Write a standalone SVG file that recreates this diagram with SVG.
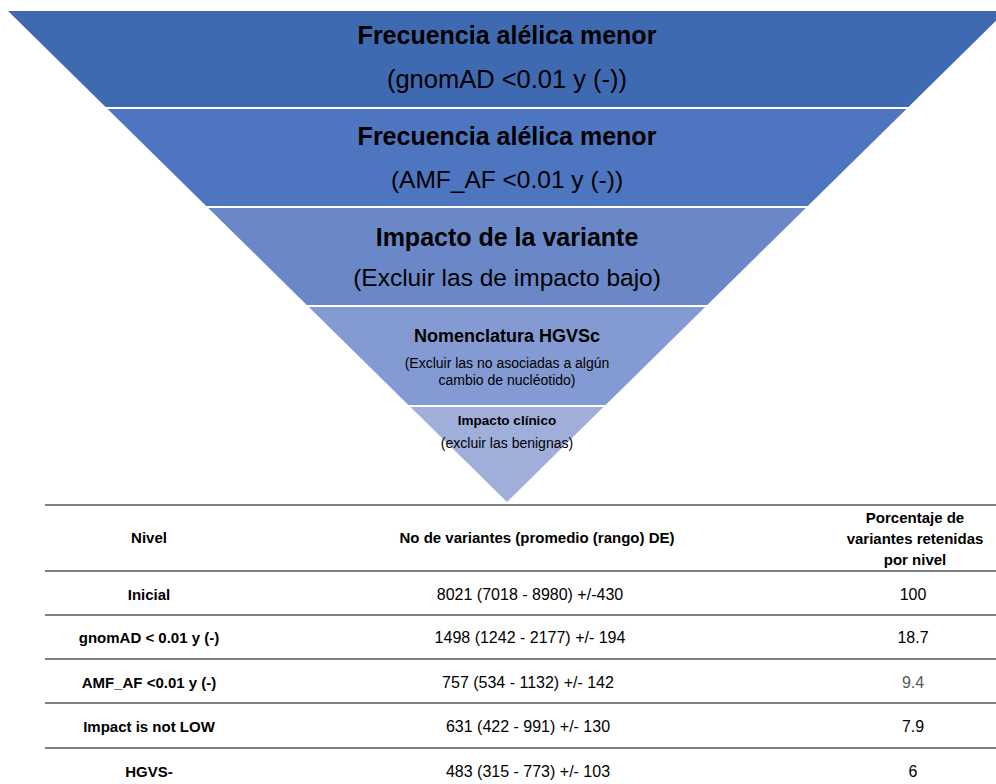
<svg xmlns="http://www.w3.org/2000/svg" width="996" height="784" viewBox="0 0 996 784">
<style>
text { font-family: "Liberation Sans", Arial, sans-serif; fill: #000; text-anchor: middle; }
.b { font-weight: bold; }
.big { font-size: 25px; }
.mid { font-size: 24.5px; }
.g1 { font-size: 25.5px; }
.t4 { font-size: 18px; }
.s14 { font-size: 14px; }
.t5 { font-size: 13.5px; }
.th { font-size: 15px; font-weight: bold; }
.td { font-size: 16px; }
.rule { stroke: #7f7f7f; stroke-width: 2.2; fill: none; }
</style>
<rect width="996" height="784" fill="#fff"/>
<g id="level1">
<polygon points="8,11 1006,11 908.4,107 105.6,107" fill="#3F69B1"/>
<text class="b big" x="507" y="44">Frecuencia alélica menor</text>
<text class="g1" x="507" y="88">(gnomAD &lt;0.01 y (-))</text>
</g>
<g id="level2">
<polygon points="107.6,109 906.4,109 807.8,206 206.2,206" fill="#4E75BF"/>
<text class="b big" x="507" y="145">Frecuencia alélica menor</text>
<text class="mid" x="507" y="188">(AMF_AF &lt;0.01 y (-))</text>
</g>
<g id="level3">
<polygon points="208.2,208 805.8,208 707.2,305 306.8,305" fill="#6A88C7"/>
<text class="b big" x="507" y="246">Impacto de la variante</text>
<text class="mid" x="507" y="286">(Excluir las de impacto bajo)</text>
</g>
<g id="level4">
<polygon points="308.8,307 705.2,307 605.6,405 408.4,405" fill="#849AD2"/>
<text class="b t4" x="507" y="342">Nomenclatura HGVSc</text>
<text class="s14" x="507" y="368">(Excluir las no asociadas a algún</text>
<text class="s14" x="507" y="385">cambio de nucléotido)</text>
</g>
<g id="level5">
<polygon points="410.5,407 603.5,407 507,502" fill="#A0AEDA"/>
<text class="b t5" x="507" y="425">Impacto clínico</text>
<text class="s14" x="507" y="448">(excluir las benignas)</text>
</g>
<g id="table">
<line class="rule" x1="45" y1="505" x2="996" y2="505"/>
<line class="rule" x1="45" y1="571" x2="996" y2="571"/>
<line class="rule" x1="45" y1="615" x2="996" y2="615"/>
<line class="rule" x1="45" y1="659" x2="996" y2="659"/>
<line class="rule" x1="45" y1="703" x2="996" y2="703"/>
<line class="rule" x1="45" y1="748" x2="996" y2="748"/>
<text class="th" x="149" y="543">Nivel</text>
<text class="th" x="537" y="543">No de variantes (promedio (rango) DE)</text>
<text class="th" x="915" y="523">Porcentaje de</text>
<text class="th" x="915" y="544">variantes retenidas</text>
<text class="th" x="915" y="565">por nivel</text>
<text class="th" x="149" y="600">Inicial</text>
<text class="td" x="530" y="600">8021 (7018 - 8980) +/-430</text>
<text class="td" x="913" y="600">100</text>
<text class="th" x="149" y="643">gnomAD &lt; 0.01 y (-)</text>
<text class="td" x="530" y="643">1498 (1242 - 2177) +/- 194</text>
<text class="td" x="913" y="643">18.7</text>
<text class="th" x="149" y="688">AMF_AF &lt;0.01 y (-)</text>
<text class="td" x="528" y="688">757 (534 - 1132) +/- 142</text>
<text class="td" x="913" y="688" style="fill:#595959">9.4</text>
<text class="th" x="149" y="732">Impact is not LOW</text>
<text class="td" x="528" y="732">631 (422 - 991) +/- 130</text>
<text class="td" x="913" y="732">7.9</text>
<text class="th" x="149" y="777">HGVS-</text>
<text class="td" x="528" y="777">483 (315 - 773) +/- 103</text>
<text class="td" x="913" y="777">6</text>
</g>
</svg>
